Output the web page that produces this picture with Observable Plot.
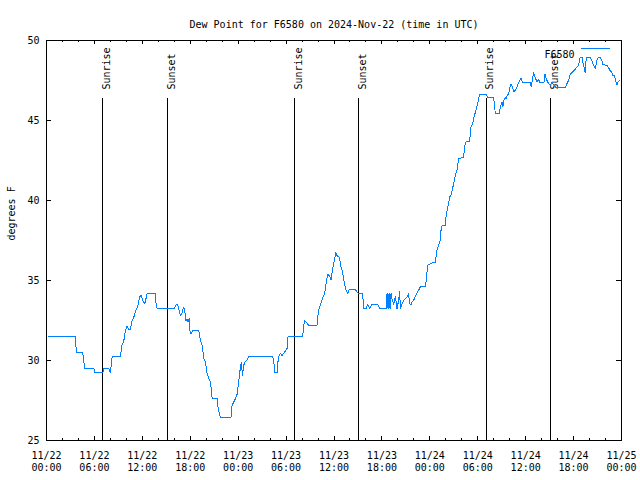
<!DOCTYPE html>
<html>
<head>
<meta charset="utf-8">
<script src="https://cdn.jsdelivr.net/npm/d3@7"></script>
<script src="https://cdn.jsdelivr.net/npm/@observablehq/plot@0.6"></script>
<style>
  html, body { margin: 0; padding: 0; background: #fff; }
</style>
</head>
<body>
<div id="chart"></div>
<script>
// ---- data (hours since 2024-11-22 00:00 UTC, dew point in °F) ----
const hours = [
  0.25, 3.59, 3.75, 4.54, 4.79, 5.92, 6.05, 7.05, 7.17, 7.8, 8.01, 8.22, 9.26, 9.47, 9.67, 9.89,
  10.1, 10.3, 10.51, 10.73, 10.93, 11.23, 11.43, 11.68, 11.85, 12.1, 12.3, 12.52, 12.6, 13.6,
  13.73, 13.85, 16.02, 16.15, 16.43, 16.61, 16.77, 16.98, 17.18, 17.31, 17.48, 17.61, 17.73,
  17.86, 17.93, 18.11, 18.36, 19.06, 19.27, 19.49, 19.69, 19.9, 20.11, 20.31, 20.53, 20.74,
  21.36, 21.49, 21.65, 21.81, 23.12, 23.24, 23.44, 23.65, 23.87, 24.03, 24.16, 24.28, 24.41,
  24.53, 24.69, 24.87, 25.03, 25.19, 25.32,
  28.32, 28.45, 28.57, 28.87, 29.0, 29.12, 29.29, 29.5, 29.7, 30.13, 30.25, 32.08, 32.29, 32.54,
  32.83, 33.88, 34.04, 34.29, 34.58, 34.83, 35.01, 35.21, 35.42, 35.63, 35.83, 36.05, 36.21,
  36.38, 36.67, 36.88, 37.08, 37.3, 37.51, 37.71, 37.92, 38.67, 38.89, 39.09, 39.51, 39.64, 39.71,
  40.05, 40.21, 40.46, 40.76, 41.46, 41.71, 42.52, 42.64, 42.77, 42.89, 43.02, 43.14, 43.27,
  43.47, 43.68, 43.89, 44.09, 44.22, 44.31, 44.52, 44.72, 44.93, 45.14, 45.34, 45.47, 45.64,
  45.77, 45.97, 46.18, 46.4, 46.6, 46.81, 47.43, 47.56, 47.72, 48.27, 48.69, 48.9, 49.1, 49.31,
  49.44, 49.94, 50.06, 50.23, 50.48, 50.69, 50.98, 51.19, 51.4, 51.6, 52.23, 52.35, 52.53, 52.98,
  53.15, 53.35, 53.57, 53.82, 53.98, 54.19, 54.32, 55.03, 55.23, 55.98, 56.2, 56.73, 56.82,
  57.03, 57.16, 57.23, 57.45, 57.57, 57.66, 57.86, 57.99, 58.16, 58.36, 58.49, 58.7, 58.91,
  59.04, 59.24, 59.42, 59.61, 60.58, 60.7, 60.99, 61.2, 61.41, 61.61, 61.73, 62.33, 62.42,
  62.58, 62.87, 63.08, 63.29, 63.7, 63.91, 64.96, 65.17, 65.37, 65.58, 65.79, 65.99, 66.21,
  66.42, 66.62, 66.83, 67.05, 67.25, 67.46, 67.59, 68.09, 68.3, 68.5, 68.71, 68.92, 69.12,
  69.34, 69.55, 69.67, 70.17, 70.38, 70.59, 70.8, 70.93, 71.09, 71.21, 71.42, 71.55, 71.75
];
const dewpoint = [
  31.5, 31.5, 30.5, 30.5, 29.5, 29.5, 29.25, 29.25, 29.5, 29.5, 29.25, 30.25, 30.25, 31.0, 31.2, 31.9,
  32.15, 31.95, 31.95, 32.5, 32.7, 33.2, 33.4, 34.0, 34.05, 33.7, 33.55, 34.0, 34.2, 34.2,
  33.5, 33.25, 33.25, 33.45, 33.5, 33.1, 32.8, 33.0, 33.35, 33.1, 32.45, 32.6, 32.4,
  32.65, 31.9, 31.65, 31.9, 31.9, 31.25, 30.95, 30.15, 29.9, 29.2, 28.9, 28.65, 27.65,
  27.65, 27.0, 26.65, 26.45, 26.45, 27.2, 27.4, 27.6, 27.9, 28.5, 29.05, 29.6, 29.9,
  29.05, 29.7, 29.9, 30.0, 30.1, 30.25,
  30.25, 30.0, 29.25, 29.25, 30.0, 30.3, 30.45, 30.3, 30.45, 30.75, 31.5, 31.5, 32.5, 32.4,
  32.2, 32.2, 33.1, 33.45, 33.9, 34.2, 34.8, 35.4, 35.3, 35.05, 35.75, 36.25, 36.75,
  36.55, 36.45, 35.85, 35.5, 34.8, 34.4, 34.2, 34.45, 34.45, 34.25, 34.2, 34.2, 33.85, 33.25,
  33.25, 33.5, 33.25, 33.5, 33.5, 33.25, 33.25, 34.2, 33.25, 34.2, 33.25, 34.2, 33.85,
  33.5, 34.0, 33.25, 33.75, 34.35, 33.25, 33.55, 33.75, 33.85, 33.95, 34.2, 33.55, 33.5,
  33.65, 33.75, 34.0, 34.25, 34.4, 34.6, 34.6, 35.0, 35.95, 36.1, 36.15, 36.9, 37.2, 37.5,
  38.4, 38.45, 39.15, 39.5, 40.2, 40.4, 41.05, 41.55, 41.9, 42.6, 42.7, 43.35, 43.65, 43.7,
  44.6, 44.8, 45.3, 45.7, 46.05, 46.55, 46.65, 46.65, 46.45, 46.45, 45.45, 45.45, 45.85,
  46.15, 45.85, 46.25, 46.45, 46.35, 46.55, 46.65, 47.0, 47.3, 47.1, 46.8, 46.9, 47.1,
  47.3, 47.5, 47.65, 47.4, 47.4, 47.1, 48.0, 47.7, 47.4, 47.6, 47.4, 47.4, 47.9,
  47.6, 47.3, 47.2, 47.4, 47.1, 47.05, 47.05, 47.3, 47.5, 47.9, 48.0, 48.1, 48.2,
  48.35, 48.45, 48.95, 48.95, 48.45, 48.0, 48.95, 48.95, 48.75, 48.45, 48.25, 48.75, 48.95,
  48.95, 48.75, 48.5, 48.45, 48.3, 48.1, 48.0, 47.8, 47.8, 47.6, 47.2, 47.4, 47.5
];
const sunrise = [7.05, 31.07, 55.08];
const sunset = [15.15, 39.12, 63.1];
const xTickHours = [0, 6, 12, 18, 24, 30, 36, 42, 48, 54, 60, 66, 72];
const xTickLabels = [
  "11/22\n00:00", "11/22\n06:00", "11/22\n12:00", "11/22\n18:00",
  "11/23\n00:00", "11/23\n06:00", "11/23\n12:00", "11/23\n18:00",
  "11/24\n00:00", "11/24\n06:00", "11/24\n12:00", "11/24\n18:00",
  "11/25\n00:00"
];
const xMinorHours = d3.range(0, 73, 2);
const yTicks = [25, 30, 35, 40, 45, 50];
const titleText = "Dew Point for F6580 on 2024-Nov-22 (time in UTC)";
const yLabel = "degrees F";
const seriesName = "F6580";

const W = 640, H = 480;
const mL = 46, mR = 19, mT = 40, mB = 40;
const frameW = W - mL - mR, frameH = H - mT - mB;
const lineColor = "#0080ff";

const table = hours.map((h, i) => ({h, v: dewpoint[i]}));

const plot = Plot.plot({
  width: W, height: H,
  marginLeft: mL, marginRight: mR, marginTop: mT, marginBottom: mB,
  style: {fontFamily: "'DejaVu Sans Mono', monospace", fontSize: "10px", background: "white", color: "black"},
  x: {domain: [0, 72], axis: null},
  y: {domain: [25, 50], axis: null},
  marks: [
    // ticks (inward) bottom & top
    Plot.tickX(xMinorHours, {x: d => d, insetTop: frameH - 2, stroke: "black", shapeRendering: "crispEdges"}),
    Plot.tickX(xMinorHours, {x: d => d, insetBottom: frameH - 2, stroke: "black", shapeRendering: "crispEdges"}),
    Plot.tickX(xTickHours, {x: d => d, insetTop: frameH - 4, stroke: "black", shapeRendering: "crispEdges"}),
    Plot.tickX(xTickHours, {x: d => d, insetBottom: frameH - 4, stroke: "black", shapeRendering: "crispEdges"}),
    // y ticks left & right
    Plot.tickY(yTicks, {y: d => d, insetRight: frameW - 5, stroke: "black", shapeRendering: "crispEdges"}),
    Plot.tickY(yTicks, {y: d => d, insetLeft: frameW - 5, stroke: "black", shapeRendering: "crispEdges"}),
    // sunrise / sunset rules and labels
    Plot.ruleX(sunrise, {x: d => d, insetTop: 58, stroke: "black", shapeRendering: "crispEdges"}),
    Plot.ruleX(sunset, {x: d => d, insetTop: 58, stroke: "black", shapeRendering: "crispEdges"}),
    Plot.text(sunrise, {x: d => d, text: () => "Sunrise", frameAnchor: "top", rotate: -90, textAnchor: "start", dy: 49, fill: "black"}),
    Plot.text(sunset, {x: d => d, text: () => "Sunset", frameAnchor: "top", rotate: -90, textAnchor: "start", dy: 49, fill: "black"}),
    // data line
    Plot.line(table, {x: "h", y: "v", stroke: lineColor, strokeWidth: 1, strokeLinejoin: "miter", shapeRendering: "crispEdges"}),
    Plot.frame({stroke: "black", shapeRendering: "crispEdges"}),
    // tick labels
    Plot.text(xTickHours, {x: d => d, text: (d, i) => xTickLabels[i], frameAnchor: "bottom", lineAnchor: "top", dy: 10, lineHeight: 1.2, fill: "black"}),
    Plot.text(yTicks, {y: d => d, text: d => String(d), frameAnchor: "left", dx: -7, textAnchor: "end", fill: "black"}),
    // axis label & title
    Plot.text([yLabel], {frameAnchor: "left", rotate: -90, dx: -35, fill: "black"}),
    Plot.text([titleText], {frameAnchor: "top", dy: -20, fill: "black"}),
    // legend label
    Plot.text([seriesName], {frameAnchor: "top-right", dx: -47, dy: 10, textAnchor: "end", fill: "black"})
  ]
});

// legend sample line
const xr = plot.scale("x").range;
const yr = plot.scale("y").range;
const topY = Math.min(yr[0], yr[1]);
const rightX = Math.max(xr[0], xr[1]);
d3.select(plot).append("line")
  .attr("x1", rightX - 40).attr("x2", rightX - 11)
  .attr("y1", topY + 8.5).attr("y2", topY + 8.5)
  .attr("stroke", lineColor).attr("stroke-width", 1)
  .attr("shape-rendering", "crispEdges");

document.getElementById("chart").appendChild(plot);
</script>
</body>
</html>
